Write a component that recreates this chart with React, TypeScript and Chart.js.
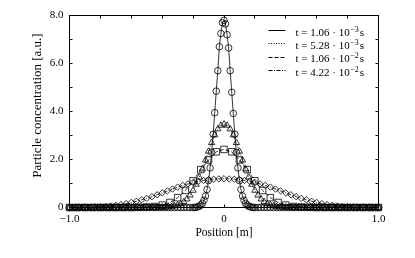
import React, { useEffect, useRef } from 'react';
import { Chart, registerables } from 'chart.js';

Chart.register(...registerables);

// ---- data ----
const circlePositions = [
  -1.00, -0.98, -0.96, -0.94, -0.92, -0.90, -0.88, -0.86, -0.84, -0.82, -0.80, -0.78, -0.76, -0.74, -0.72, -0.70, -0.68, -0.66, -0.64, -0.62,
  -0.60, -0.58, -0.56, -0.54, -0.52, -0.50, -0.48, -0.46, -0.44, -0.42, -0.40, -0.38, -0.36, -0.34, -0.32, -0.30, -0.28, -0.26, -0.24, -0.22,
  -0.20, -0.19, -0.18, -0.17, -0.16, -0.15, -0.14, -0.13, -0.12, -0.11, -0.10, -0.09, -0.08, -0.07, -0.06, -0.05, -0.04, -0.03, -0.02, -0.01,
  0.00, 0.01, 0.02, 0.03, 0.04, 0.05, 0.06, 0.07, 0.08, 0.09, 0.10, 0.11, 0.12, 0.13, 0.14, 0.15, 0.16, 0.17, 0.18, 0.19, 0.20,
  0.22, 0.24, 0.26, 0.28, 0.30, 0.32, 0.34, 0.36, 0.38, 0.40, 0.42, 0.44, 0.46, 0.48, 0.50, 0.52, 0.54, 0.56, 0.58, 0.60,
  0.62, 0.64, 0.66, 0.68, 0.70, 0.72, 0.74, 0.76, 0.78, 0.80, 0.82, 0.84, 0.86, 0.88, 0.90, 0.92, 0.94, 0.96, 0.98, 1.00,
];
const circleValues = [
  0, 0, 0, 0, 0, 0, 0, 0, 0, 0, 0, 0, 0, 0, 0, 0, 0, 0, 0, 0,
  0, 0, 0, 0, 0, 0, 0, 0, 0, 0, 0, 0, 0, 0, 0, 0, 0, 0, 0, 0,
  0, 0, 0.01, 0.03, 0.05, 0.10, 0.17, 0.30, 0.48, 0.75, 1.12, 1.65, 2.30, 3.05, 3.95, 4.85, 5.70, 6.70, 7.25, 7.70,
  7.80, 7.65, 7.20, 6.65, 5.70, 4.80, 3.92, 3.05, 2.30, 1.65, 1.12, 0.75, 0.48, 0.30, 0.17, 0.10, 0.05, 0.03, 0.01, 0, 0,
  0, 0, 0, 0, 0, 0, 0, 0, 0, 0, 0, 0, 0, 0, 0, 0, 0, 0, 0, 0,
  0, 0, 0, 0, 0, 0, 0, 0, 0, 0, 0, 0, 0, 0, 0, 0, 0, 0, 0, 0,
];

const trianglePositions = [
  -1.00, -0.98, -0.96, -0.94, -0.92, -0.90, -0.88, -0.86, -0.84, -0.82, -0.80, -0.78, -0.76, -0.74, -0.72,
  -0.70, -0.68, -0.66, -0.64, -0.62, -0.60, -0.58, -0.56, -0.54, -0.52, -0.50, -0.48, -0.46, -0.44, -0.42,
  -0.40, -0.38, -0.36, -0.34, -0.32, -0.30, -0.28, -0.26, -0.24, -0.22, -0.20, -0.18, -0.16, -0.14, -0.12, -0.10, -0.08, -0.06, -0.04, -0.02,
  0.00, 0.02, 0.04, 0.06, 0.08, 0.10, 0.12, 0.14, 0.16, 0.18, 0.20, 0.22, 0.24, 0.26, 0.28, 0.30, 0.32, 0.34, 0.36, 0.38, 0.40,
  0.42, 0.44, 0.46, 0.48, 0.50, 0.52, 0.54, 0.56, 0.58, 0.60, 0.62, 0.64, 0.66, 0.68, 0.70,
  0.72, 0.74, 0.76, 0.78, 0.80, 0.82, 0.84, 0.86, 0.88, 0.90, 0.92, 0.94, 0.96, 0.98, 1.00,
];
const triangleValues = [
  0, 0, 0, 0, 0, 0, 0, 0, 0, 0, 0, 0, 0, 0, 0,
  0, 0, 0, 0, 0, 0, 0, 0, 0, 0, 0, 0, 0, 0, 0,
  0.01, 0.01, 0.02, 0.04, 0.06, 0.10, 0.15, 0.24, 0.35, 0.51, 0.71, 0.96, 1.26, 1.60, 1.97, 2.34, 2.70, 3.02, 3.27, 3.42,
  3.47, 3.42, 3.27, 3.02, 2.70, 2.34, 1.97, 1.60, 1.26, 0.96, 0.71, 0.51, 0.35, 0.24, 0.15, 0.10, 0.06, 0.04, 0.02, 0.01, 0.01,
  0, 0, 0, 0, 0, 0, 0, 0, 0, 0, 0, 0, 0, 0, 0,
  0, 0, 0, 0, 0, 0, 0, 0, 0, 0, 0, 0, 0, 0, 0,
];

const squarePositions = [
  -1.00, -0.95, -0.90, -0.85, -0.80, -0.75, -0.70, -0.65, -0.60, -0.55, -0.50, -0.45, -0.40, -0.35, -0.30, -0.25, -0.20, -0.15, -0.10, -0.05,
  0.00, 0.05, 0.10, 0.15, 0.20, 0.25, 0.30, 0.35, 0.40, 0.45, 0.50, 0.55, 0.60, 0.65, 0.70, 0.75, 0.80, 0.85, 0.90, 0.95, 1.00,
];
const squareValues = [
  0, 0, 0, 0, 0, 0, 0, 0, 0, 0.01, 0.02, 0.04, 0.10, 0.21, 0.41, 0.71, 1.11, 1.58, 1.98, 2.32,
  2.42, 2.32, 1.98, 1.58, 1.11, 0.71, 0.41, 0.21, 0.10, 0.04, 0.02, 0.01, 0, 0, 0, 0, 0, 0, 0, 0, 0,
];

const diamondPositions = [
  -1.000, -0.967, -0.933, -0.900, -0.867, -0.833, -0.800, -0.767, -0.733, -0.700, -0.667, -0.633, -0.600, -0.567, -0.533,
  -0.500, -0.467, -0.433, -0.400, -0.367, -0.333, -0.300, -0.267, -0.233, -0.200, -0.167, -0.133, -0.100, -0.067, -0.033,
  0.000, 0.033, 0.067, 0.100, 0.133, 0.167, 0.200, 0.233, 0.267, 0.300, 0.333, 0.367, 0.400, 0.433, 0.467,
  0.500, 0.533, 0.567, 0.600, 0.633, 0.667, 0.700, 0.733, 0.767, 0.800, 0.833, 0.867, 0.900, 0.933, 0.967, 1.000,
];
const diamondValues = [
  0, 0, 0, 0, 0.01, 0.02, 0.03, 0.04, 0.06, 0.09, 0.12, 0.16, 0.21, 0.26, 0.32,
  0.38, 0.45, 0.53, 0.61, 0.69, 0.77, 0.85, 0.92, 0.98, 1.04, 1.09, 1.13, 1.16, 1.18, 1.19,
  1.20, 1.19, 1.18, 1.16, 1.13, 1.09, 1.04, 0.98, 0.92, 0.85, 0.77, 0.69, 0.61, 0.53, 0.45,
  0.38, 0.32, 0.26, 0.21, 0.16, 0.12, 0.09, 0.06, 0.04, 0.03, 0.02, 0.01, 0, 0, 0, 0,
];

const legendMantissas = ['1.06', '5.28', '1.06', '4.22'];
const legendExponents = ['\u22123', '\u22123', '\u22122', '\u22122'];

const xLabeledTicks = [-1, 0, 1];
const xTickText = ['\u22121.0', '0', '1.0'];
const yLabeledTicks = [0, 2, 4, 6, 8];
const yTickText = ['0', '2.0', '4.0', '6.0', '8.0'];

const xTitle = 'Position [m]';
const yTitle = 'Particle concentration [a.u.]';

// ---- styles ----
const FONT = '"Liberation Serif", "DejaVu Serif", serif';
const seriesStyles = [
  { pointStyle: 'circle', radius: 3.3, dash: [] as number[] },
  { pointStyle: 'triangle', radius: 3.6, dash: [1, 1.5] },
  { pointStyle: 'rect', radius: 4.6, dash: [4, 2] },
  { pointStyle: 'rectRot', radius: 3.2, dash: [4, 1.5, 1, 1.5] },
];
const seriesData = [
  [circlePositions, circleValues],
  [trianglePositions, triangleValues],
  [squarePositions, squareValues],
  [diamondPositions, diamondValues],
];

const findLabel = (ticks: number[], texts: string[], v: number) => {
  const i = ticks.findIndex((t) => Math.abs(t - v) < 1e-6);
  return i >= 0 ? texts[i] : '';
};

const framePlugin = {
  id: 'frameTicks',
  beforeDatasetsDraw(chart: any) {
    const { ctx, chartArea, scales } = chart;
    const { left, right, top, bottom } = chartArea;
    const al = (p: number) => Math.floor(p) + 0.5;
    ctx.save();
    ctx.strokeStyle = '#000';
    ctx.lineWidth = 1;
    ctx.setLineDash([]);
    ctx.strokeRect(al(left), al(top), al(right) - al(left), al(bottom) - al(top));
    const tl = 3;
    ctx.beginPath();
    scales.x.ticks.forEach((t: any) => {
      const px = al(scales.x.getPixelForValue(t.value));
      ctx.moveTo(px, al(bottom));
      ctx.lineTo(px, al(bottom) - tl);
      ctx.moveTo(px, al(top));
      ctx.lineTo(px, al(top) + tl);
    });
    scales.y.ticks.forEach((t: any) => {
      const py = al(scales.y.getPixelForValue(t.value));
      ctx.moveTo(al(left), py);
      ctx.lineTo(al(left) + tl, py);
      ctx.moveTo(al(right), py);
      ctx.lineTo(al(right) - tl, py);
    });
    ctx.stroke();
    // y-axis title (rotated), placed like the reference
    ctx.fillStyle = '#000';
    ctx.font = `13px ${FONT}`;
    ctx.textAlign = 'center';
    ctx.textBaseline = 'middle';
    ctx.translate(38, (top + bottom) / 2 - 6);
    ctx.rotate(-Math.PI / 2);
    ctx.fillText(yTitle, 0, 0);
    ctx.restore();
  },
};

const legendPlugin = {
  id: 'insetLegend',
  afterDatasetsDraw(chart: any) {
    const { ctx, chartArea } = chart;
    const x0 = chartArea.right - 110;
    const x1 = x0 + 17;
    const tx = x0 + 27;
    ctx.save();
    legendMantissas.forEach((m, i) => {
      const baseY = chartArea.top + 20 + 13.4 * i;
      const lineY = Math.floor(baseY - 5) + 0.5;
      ctx.strokeStyle = '#000';
      ctx.lineWidth = 1;
      ctx.setLineDash(seriesStyles[i].dash);
      ctx.beginPath();
      ctx.moveTo(x0, lineY);
      ctx.lineTo(x1, lineY);
      ctx.stroke();
      ctx.setLineDash([]);
      ctx.fillStyle = '#000';
      ctx.textBaseline = 'alphabetic';
      ctx.textAlign = 'left';
      ctx.font = `11px ${FONT}`;
      const main = `t = ${m} \u00b7 10`;
      ctx.fillText(main, tx, baseY);
      let x = tx + ctx.measureText(main).width + 0.5;
      ctx.font = `8px ${FONT}`;
      ctx.fillText(legendExponents[i], x, baseY - 4);
      x += ctx.measureText(legendExponents[i]).width + 1;
      ctx.font = `11px ${FONT}`;
      ctx.fillText('s', x, baseY);
    });
    ctx.restore();
  },
};

export default function App() {
  const ref = useRef<HTMLCanvasElement | null>(null);
  useEffect(() => {
    if (!ref.current) return;
    const chart = new Chart(ref.current, {
      type: 'line',
      data: {
        datasets: seriesData.map(([pos, vals], i) => ({
          label: `t = ${legendMantissas[i]} \u00b7 10${legendExponents[i]} s`,
          data: pos.map((p, j) => ({ x: p, y: vals[j] })),
          borderColor: '#000',
          borderWidth: 0.8,
          borderDash: seriesStyles[i].dash,
          pointStyle: seriesStyles[i].pointStyle as any,
          pointRadius: seriesStyles[i].radius,
          pointHoverRadius: seriesStyles[i].radius,
          pointBorderColor: '#000',
          pointBackgroundColor: 'rgba(0,0,0,0)',
          pointBorderWidth: 0.8,
          tension: 0,
          clip: false as any,
        })),
      },
      options: {
        animation: false,
        responsive: false,
        devicePixelRatio: 1,
        events: [],
        layout: { padding: { top: 15.5, right: 36.5, left: 0, bottom: 0 } },
        plugins: { legend: { display: false }, tooltip: { enabled: false } },
        scales: {
          x: {
            type: 'linear',
            min: -1,
            max: 1,
            grid: { display: false, drawTicks: false },
            border: { display: false },
            ticks: {
              stepSize: 0.2,
              autoSkip: false,
              maxRotation: 0,
              padding: 5,
              color: '#000',
              font: { family: FONT, size: 11 },
              callback: (v: any) => findLabel(xLabeledTicks, xTickText, Number(v)),
            },
            title: {
              display: true,
              text: xTitle,
              color: '#000',
              font: { family: FONT, size: 11.5 },
              padding: { top: 0, bottom: 18 },
            },
            afterFit: (s: any) => {
              s.height = 50.5;
            },
          },
          y: {
            type: 'linear',
            min: 0,
            max: 8,
            grid: { display: false, drawTicks: false },
            border: { display: false },
            ticks: {
              stepSize: 1,
              autoSkip: false,
              padding: 6,
              color: '#000',
              font: { family: FONT, size: 11 },
              callback: (v: any) => findLabel(yLabeledTicks, yTickText, Number(v)),
            },
            title: { display: false, text: yTitle },
            afterFit: (s: any) => {
              s.width = 69.5;
            },
          },
        },
      },
      plugins: [framePlugin, legendPlugin],
    });
    return () => chart.destroy();
  }, []);
  return (
    <div style={{ position: 'fixed', left: 0, top: 0, width: 415, height: 258, background: '#fff' }}>
      <canvas ref={ref} width={415} height={258} style={{ display: 'block', width: 415, height: 258 }} />
    </div>
  );
}
